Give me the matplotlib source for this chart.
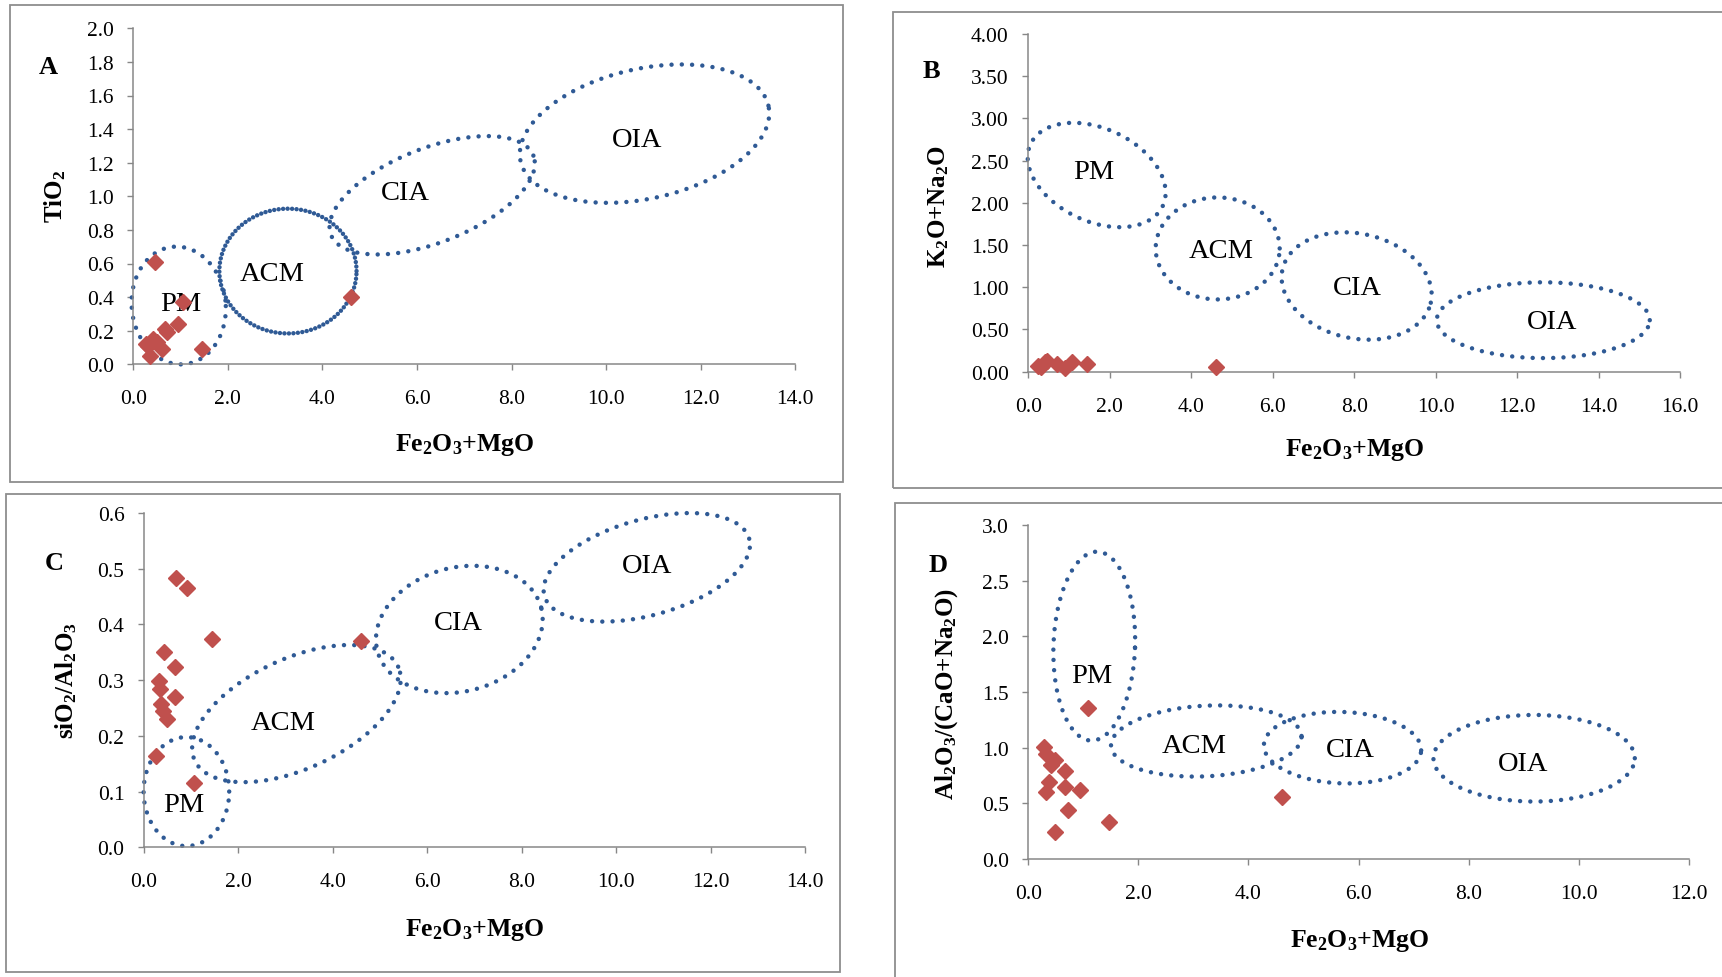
import numpy as np
import matplotlib
matplotlib.use("Agg")
import matplotlib.pyplot as plt
from matplotlib.patches import Rectangle

plt.rcParams['font.family'] = ['Liberation Serif', 'DejaVu Serif']
plt.rcParams['mathtext.fontset'] = 'custom'
plt.rcParams['mathtext.rm'] = 'Liberation Serif:bold'
plt.rcParams['mathtext.default'] = 'rm'

W, H = 1722, 978

# ---- sample data ----
a_x = [0.46, 1.06, 0.95, 0.67, 0.42, 0.32, 0.60, 0.35, 1.45, 4.61, 0.50, 0.72, 0.26]
a_y = [0.61, 0.37, 0.24, 0.21, 0.15, 0.11, 0.09, 0.05, 0.09, 0.40, 0.13, 0.19, 0.12]

b_x = [0.25, 0.32, 0.41, 0.47, 0.70, 0.91, 1.07, 1.44, 4.62]
b_y = [0.07, 0.05, 0.11, 0.13, 0.09, 0.04, 0.11, 0.09, 0.06]

c_x = [0.69, 0.92, 1.44, 0.43, 0.66, 0.31, 0.34, 0.66, 0.37, 0.41, 0.49, 0.26, 1.07, 4.59]
c_y = [0.484, 0.465, 0.374, 0.350, 0.323, 0.298, 0.284, 0.269, 0.257, 0.245, 0.230, 0.163, 0.115, 0.371]

d_x = [1.08, 0.29, 0.33, 0.48, 0.41, 0.67, 0.38, 0.67, 0.32, 0.95, 0.73, 1.46, 0.48, 4.61]
d_y = [1.36, 1.01, 0.94, 0.89, 0.84, 0.79, 0.69, 0.65, 0.60, 0.62, 0.44, 0.33, 0.24, 0.56]

# tectonic fields: name, centre x, centre y (data), semi axes (px), tilt (deg), label x, label y
fields = ["PM", "ACM", "CIA", "OIA"]
a_cx = [0.96, 3.27, 6.32, 10.81]
a_cy = [0.35, 0.555, 1.006, 1.373]
a_ra = [47, 68.6, 108.7, 127]
a_rb = [59, 62.4, 47.2, 64.9]
a_ang = [6, 0, 21.4, 12.7]
a_lx = [1.0, 2.93, 5.76, 10.66]
a_ly = [0.36, 0.54, 1.02, 1.34]

b_cx = [1.68, 4.65, 8.06, 12.64]
b_cy = [2.33, 1.46, 1.015, 0.61]
b_ra = [73, 62, 76, 106.5]
b_rb = [46.4, 51, 52.3, 37.9]
b_ang = [-25.1, 0, -12.7, 0]
b_lx = [1.62, 4.74, 8.08, 12.85]
b_ly = [2.37, 1.43, 1.00, 0.60]

c_cx = [0.90, 3.23, 6.68, 10.65]
c_cy = [0.10, 0.240, 0.391, 0.5025]
c_ra = [42.8, 112, 84.7, 106.3]
c_rb = [54.5, 55.1, 61.9, 47.9]
c_ang = [0, 24.75, 15, 15.6]
c_lx = [0.84, 2.95, 6.65, 10.65]
c_ly = [0.077, 0.224, 0.403, 0.506]

d_cx = [1.20, 3.235, 5.71, 9.19]
d_cy = [1.912, 1.06, 1.0, 0.905]
d_ra = [40.8, 95.4, 78.7, 100.7]
d_rb = [94.5, 35.3, 35.7, 43.3]
d_ang = [-2, 3, -2, 0]
d_lx = [1.16, 3.02, 5.85, 8.99]
d_ly = [1.65, 1.02, 0.98, 0.86]

blue = '#2f5a95'
red = '#c0504d'
grey = '#878787'

fig = plt.figure(figsize=(W / 100, H / 100), dpi=100)


def box(x0, y0, x1, y1):
    fig.add_artist(Rectangle((x0 / W, 1 - y1 / H), (x1 - x0) / W, (y1 - y0) / H,
                             transform=fig.transFigure, fill=False,
                             edgecolor='#8e8e8e', linewidth=1.3))


def make_axes(x0, ytop, x1, ybot, xmax, ymax, xstep, ystep, yfmt):
    ax = fig.add_axes([x0 / W, 1 - ybot / H, (x1 - x0) / W, (ybot - ytop) / H])
    ax.set_xlim(0, xmax)
    ax.set_ylim(0, ymax)
    ax.set_xticks(np.arange(0, xmax + 0.001, xstep))
    ax.set_yticks(np.arange(0, ymax + 0.001, ystep))
    ax.set_xticklabels([f"{v:.1f}" for v in ax.get_xticks()])
    ax.set_yticklabels([yfmt.format(v) for v in ax.get_yticks()])
    for s in ['top', 'right']:
        ax.spines[s].set_visible(False)
    for s in ['left', 'bottom']:
        ax.spines[s].set_color(grey)
        ax.spines[s].set_linewidth(1.1)
    ax.tick_params(axis='x', direction='out', length=4, width=1, color=grey, pad=14, labelsize=15.5)
    ax.tick_params(axis='y', direction='out', length=4, width=1, color=grey, pad=10, labelsize=15.5)
    ax.patch.set_alpha(0)
    ax.px = ((x1 - x0) / xmax, (ybot - ytop) / ymax)
    return ax


def ring(ax, cx, cy, ra, rb, ang, gap=2.3):
    t = np.linspace(0, 2 * np.pi, 600)
    th = np.radians(ang)
    dx = ra * np.cos(t) * np.cos(th) - rb * np.sin(t) * np.sin(th)
    dy = ra * np.cos(t) * np.sin(th) + rb * np.sin(t) * np.cos(th)
    ax.plot(cx + dx / ax.px[0], cy + dy / ax.px[1], color=blue, lw=3.2,
            linestyle=(0, (0.01, gap)), dash_capstyle='round', clip_on=False)


def panel(ax, xs, ys, cx, cy, ra, rb, ang, lx, ly, dense=None):
    for i in range(len(fields)):
        ring(ax, cx[i], cy[i], ra[i], rb[i], ang[i], gap=1.0 if dense == i else 2.3)
        ax.text(lx[i], ly[i], fields[i], fontsize=20.5, ha='center', va='center')
    ax.plot(xs, ys, 'D', color=red, markersize=8.5, clip_on=False, zorder=5)


# panel frames
box(10, 6, 843, 483)
box(893, 13, 1730, 489)
box(6, 495, 840, 973)
box(895, 504, 1730, 985)

axA = make_axes(133.3, 29.3, 795.4, 365.3, 14, 2.0, 2, 0.2, "{:.1f}")
panel(axA, a_x, a_y, a_cx, a_cy, a_ra, a_rb, a_ang, a_lx, a_ly, dense=1)

axB = make_axes(1028.2, 35, 1680.2, 372.7, 16, 4.0, 2, 0.5, "{:.2f}")
panel(axB, b_x, b_y, b_cx, b_cy, b_ra, b_rb, b_ang, b_lx, b_ly)

axC = make_axes(143.9, 514, 805, 848.3, 14, 0.6, 2, 0.1, "{:.1f}")
panel(axC, c_x, c_y, c_cx, c_cy, c_ra, c_rb, c_ang, c_lx, c_ly)

axD = make_axes(1028.2, 526, 1688.8, 860, 12, 3.0, 2, 0.5, "{:.1f}")
panel(axD, d_x, d_y, d_cx, d_cy, d_ra, d_rb, d_ang, d_lx, d_ly)


def ftext(x, y, s, **kw):
    fig.text(x / W, 1 - y / H, s, ha='center', va='center', fontweight='bold', **kw)


xlab = "Fe$_2$O$_3$+MgO"
ftext(464.5, 445, xlab, fontsize=18.5)
ftext(1355, 450, xlab, fontsize=18.5)
ftext(474.5, 930, xlab, fontsize=18.5)
ftext(1359.6, 941, xlab, fontsize=18.5)

ftext(55, 196, "TiO$_2$", fontsize=18, rotation=90)
ftext(939, 206, "K$_2$O+Na$_2$O", fontsize=18, rotation=90)
ftext(66, 681, "siO$_2$/Al$_2$O$_3$", fontsize=18, rotation=90)
ftext(946.6, 694, "Al$_2$O$_3$/(CaO+Na$_2$O)", fontsize=18, rotation=90)

ftext(48, 67, "A", fontsize=19)
ftext(931, 72, "B", fontsize=19)
ftext(54, 564, "C", fontsize=19)
ftext(938, 566, "D", fontsize=19)

fig.savefig("out.png", dpi=100)
